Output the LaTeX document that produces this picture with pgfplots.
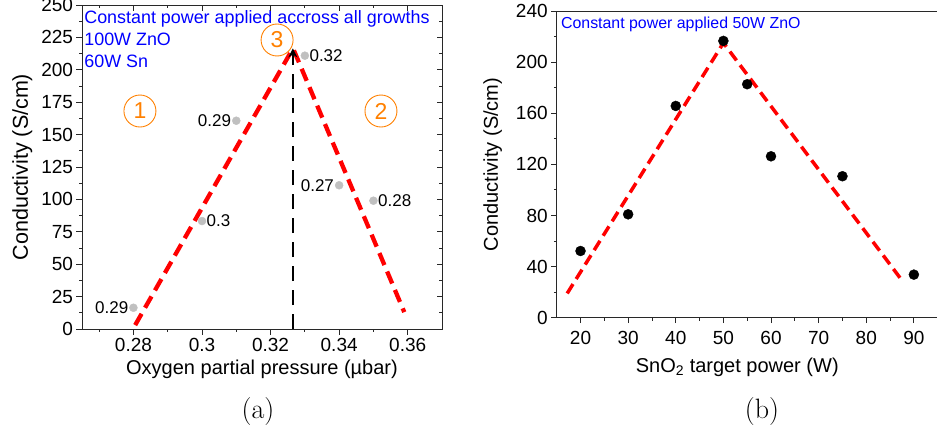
\documentclass[border=0pt]{standalone}
\usepackage{fontspec}
\newfontfamily\arial{Liberation Sans}
\usepackage{pgfplots}
\pgfplotsset{compat=1.18}
\usetikzlibrary{arrows.meta}
\definecolor{ptgray}{RGB}{192,192,192}
\definecolor{annblue}{RGB}{0,0,255}
\definecolor{circorange}{RGB}{255,128,0}
\definecolor{frame}{RGB}{40,40,40}
\pgfplotsset{
  mystyle/.style={
    scale only axis,
    axis line style={frame, line width=0.9pt},
    tick style={frame, line width=0.9pt},
    major tick length=5.5pt, minor tick length=2.8pt,
    tick align=outside, xtick pos=left, ytick pos=left,
    ticklabel style={font=\arial\fontsize{19}{22}\selectfont, text=black},
    /pgf/number format/assume math mode=true,
    label style={font=\arial\fontsize{20}{24}\selectfont},
  }
}
\begin{document}
\begin{tikzpicture}[x=1pt,y=1pt]
\path[use as bounding box] (0,0) rectangle (937,437);
% ---------------- (a) ----------------
\begin{axis}[mystyle,
  at={(82pt,108pt)}, anchor=south west, width=360pt, height=324pt,
  xmin=0.265, xmax=0.37, ymin=0, ymax=250,
  xtick={0.28,0.30,0.32,0.34,0.36}, xticklabels={0.28,0.3,0.32,0.34,0.36},
  minor xtick={0.27,0.29,0.31,0.33,0.35},
  ytick={0,25,...,250}, minor ytick={12.5,37.5,...,237.5},
  xlabel={Oxygen partial pressure (\symbol{"00B5}bar)},
  ylabel={Conductivity (S/cm)},
  xlabel style={at={(axis description cs:0.5,-0.123)}, anchor=center},
  ylabel style={at={(axis description cs:-0.166,0.5)}, anchor=center, font=\arial\fontsize{21.5}{24}\selectfont},
]
% red dashed trend lines
\addplot[red, line width=4.3pt, dash pattern=on 13pt off 7pt] coordinates {(0.2805,3) (0.3262,215)};
\addplot[red, line width=4.3pt, dash pattern=on 13pt off 7pt] coordinates {(0.3268,215) (0.3590,13)};
% black dashed arrow
\addplot[black, line width=2.3pt, dash pattern=on 15pt off 9pt, -{Stealth[length=9pt,width=9pt]}] coordinates {(0.3265,0) (0.3265,216.5)};
% gray points, labels to the left
\addplot[only marks, mark=*, mark size=4pt, mark options={fill=ptgray, draw=ptgray},
  point meta=explicit symbolic,
  nodes near coords, nodes near coords style={anchor=east, inner sep=0pt, xshift=-5pt, font=\arial\fontsize{17}{20}\selectfont, text=black}]
  table[meta=lab] {
  x y lab
  0.28 16.4 0.29
  0.31 160.7 0.29
  0.34 110.9 0.27
  };
% gray points, labels to the right
\addplot[only marks, mark=*, mark size=4pt, mark options={fill=ptgray, draw=ptgray},
  point meta=explicit symbolic,
  nodes near coords, nodes near coords style={anchor=west, inner sep=0pt, xshift=4.5pt, font=\arial\fontsize{17}{20}\selectfont, text=black}]
  table[meta=lab] {
  x y lab
  0.30 83.3 0.3
  0.33 210.9 0.32
  0.35 99.0 0.28
  };
% circled region numbers
\node[circle, draw=circorange, line width=0.9pt, minimum size=32pt, inner sep=0pt, text=circorange, font=\arial\fontsize{23}{26}\selectfont] at (axis cs:0.2819,168.2) {1};
\node[circle, draw=circorange, line width=0.9pt, minimum size=32pt, inner sep=0pt, text=circorange, font=\arial\fontsize{23}{26}\selectfont] at (axis cs:0.3522,168.2) {2};
\node[circle, draw=circorange, line width=0.9pt, minimum size=32pt, inner sep=0pt, text=circorange, font=\arial\fontsize{23}{26}\selectfont] at (axis cs:0.3219,223) {3};
% annotation
\node[anchor=north west, inner sep=0pt, align=left, text=annblue, font=\arial\fontsize{17.9}{22}\selectfont] at (axis description cs:0.006,0.985) {Constant power applied accross all growths\\100W ZnO\\60W Sn};
\end{axis}
% inner mirror ticks for (a)
\begin{axis}[mystyle,
  at={(82pt,108pt)}, anchor=south west, width=360pt, height=324pt,
  xmin=0.265, xmax=0.37, ymin=0, ymax=250,
  tick align=inside, xtick pos=right, ytick pos=right,
  xtick={0.28,0.30,0.32,0.34,0.36}, xticklabels={},
  minor xtick={0.27,0.29,0.31,0.33,0.35},
  ytick={0,25,...,250}, yticklabels={}, minor ytick={12.5,37.5,...,237.5},
]
\end{axis}
% ---------------- (b) ----------------
\begin{axis}[mystyle,
  at={(556.7pt,119.3pt)}, anchor=south west, width=381pt, height=306.7pt,
  xmin=15, xmax=95, ymin=0, ymax=240,
  xtick={20,30,...,90}, minor xtick={25,35,...,85},
  ytick={0,40,...,240}, minor ytick={20,60,...,220},
  xticklabel style={yshift=-4pt},
  xlabel={SnO\textsubscript{2} target power (W)},
  ylabel={Conductivity (S/cm)},
  xlabel style={at={(axis description cs:0.474,-0.161)}, anchor=center},
  ylabel style={at={(axis description cs:-0.168,0.5)}, anchor=center},
]
\addplot[red, line width=3.5pt, dash pattern=on 11pt off 6pt] coordinates {(17.2,19) (50,215) (87.6,28.7)};
\addplot[only marks, mark=*, mark size=5pt, mark options={fill=black, draw=black}] table {
x y
20 52.2
30 80.9
40 165.7
50 216.6
55 182.7
60 126.3
75 110.7
90 33.7
};
\node[anchor=north west, inner sep=0pt, text=annblue, font=\arial\fontsize{15.9}{18}\selectfont] at (axis description cs:0.011,0.982) {Constant power applied 50W ZnO};
\end{axis}
\node[font=\fontsize{28}{32}\selectfont] at (258,25) {(a)};
\node[font=\fontsize{28}{32}\selectfont] at (762,25) {(b)};
\end{tikzpicture}
\end{document}
